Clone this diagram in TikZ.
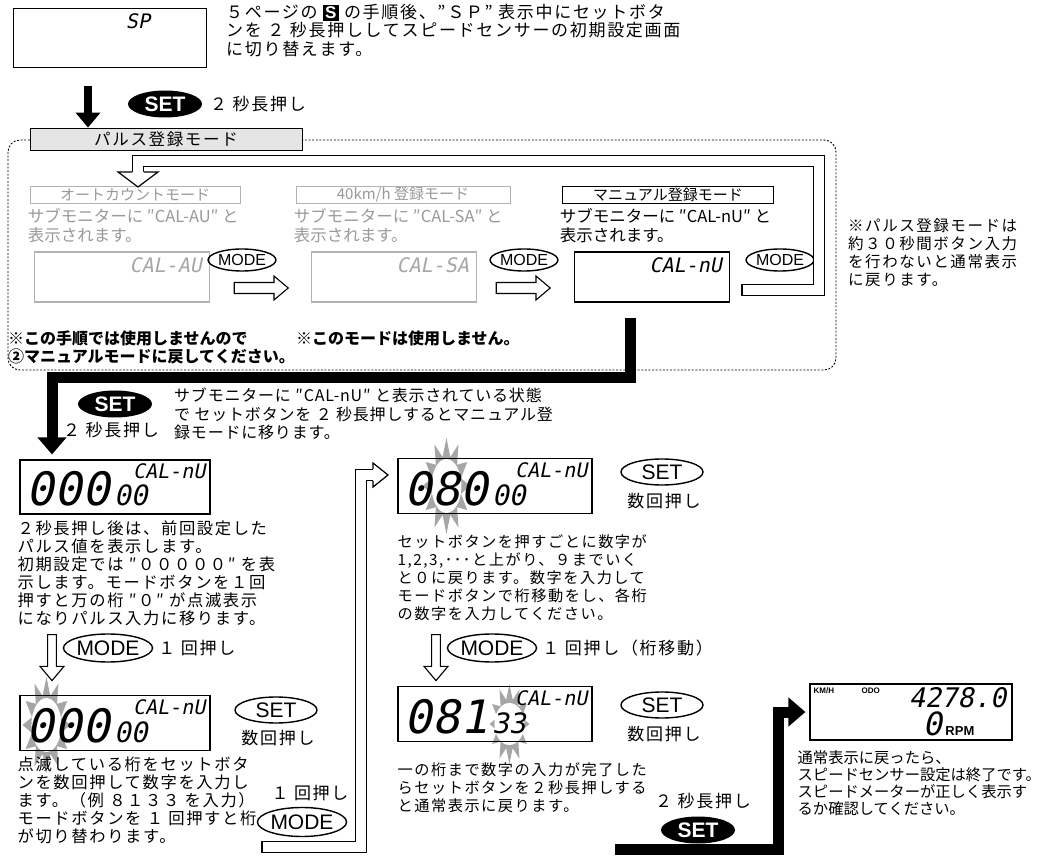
\documentclass[tikz,border=0pt]{standalone}
\usepackage{fontspec}
\setmainfont{Noto Sans CJK JP}
\newfontfamily\jptight[LetterSpace=5]{Noto Sans CJK JP}
\newfontfamily\jpmid[LetterSpace=10]{Noto Sans CJK JP}
\newfontfamily\btnfont{Liberation Sans}
\newfontfamily\segfont[FakeSlant=0.2]{DejaVu Sans Mono}
\usetikzlibrary{shapes.geometric,shapes.arrows,arrows.meta,calc,backgrounds}

\newcommand{\Sicon}{{\fboxsep=2pt\colorbox{black}{\textcolor{white}{\btnfont\bfseries\fontsize{17}{17}\selectfont S}}}}
% reading of a CAL-nU screen: name, big digits, small digits
\newcommand{\calread}[3]{%
  \node[segbig, anchor=base west] (#1-big) at ($(#1.south west)+(7,-9)$) {#2};
  \node[segsmall, anchor=base west] (#1-small) at ($(#1-big.base east)+(4,0)$) {#3};
  \node[seg, anchor=north east] (#1-cal) at ($(#1.north east)+(-5,4)$) {CAL-nU};
}

\tikzset{
  lcd/.style={draw, line width=1.1pt, inner sep=0pt},
  lcdgray/.style={lcd, draw=gray!60},
  seg/.style={inner sep=0pt, text height=15pt, text depth=0pt, font=\segfont\fontsize{20}{20}\selectfont},
  segbig/.style={inner sep=0pt, text height=34pt, text depth=0pt, font=\segfont\fontsize{46}{46}\selectfont},
  segsmall/.style={inner sep=0pt, text height=20pt, text depth=0pt, font=\segfont\fontsize{28}{28}\selectfont},
  setbtn/.style={ellipse, fill=black, text=white, inner sep=0pt, minimum width=74pt, minimum height=27pt, font=\btnfont\bfseries\fontsize{21}{21}\selectfont},
  setring/.style={ellipse, draw, line width=1.4pt, inner sep=0pt, minimum width=82pt, minimum height=26pt, font=\btnfont\fontsize{21}{21}\selectfont},
  modebtn/.style={ellipse, draw, line width=1.4pt, inner sep=0pt, minimum width=52pt, minimum height=22pt, font=\btnfont\fontsize{16}{16}\selectfont},
  modebig/.style={modebtn, minimum width=84pt, minimum height=28pt, font=\btnfont\fontsize{21}{21}\selectfont},
  txt/.style={anchor=north west, align=left, inner sep=0pt, font=\fontsize{16.5}{19}\selectfont},
  hint/.style={inner sep=0pt, font=\jpmid\fontsize{17}{17}\selectfont},
  modetitle/.style={draw, line width=0.9pt, inner sep=0pt, minimum height=17pt, font=\fontsize{15}{15}\selectfont},
  graymode/.style={modetitle, draw=gray!60, text=gray!80},
  frame/.style={line width=0.9pt, dash pattern=on 2pt off 1.6pt, rounded corners=12pt},
  bigarrow/.style={line width=11pt, -{Triangle[length=17pt, width=28pt]}},
  pipe/.style={line width=1.2pt, double=white, double distance=9.5pt},
  pipehead/.style={draw, line width=1.2pt, fill=white},
  hollow/.style={single arrow, draw, line width=1.1pt, fill=white, inner sep=4.5pt, single arrow head extend=6pt, single arrow tip angle=80, minimum height=54pt},
  hollowdown/.style={hollow, shape border rotate=270, inner sep=3.5pt, single arrow head extend=7pt, minimum height=46pt},
  burst/.style={star, star points=12, star point ratio=1.6, fill=gray!70, inner sep=0pt, minimum size=96pt, xscale=0.5},
  burstcore/.style={ellipse, fill=white, inner sep=0pt, minimum width=30pt, minimum height=54pt},
}

\begin{document}
\begin{tikzpicture}[x=1pt, y=-1pt]
\useasboundingbox (0,0) rectangle (1045,858);

% SP screen and first step
\node[lcd, minimum width=193pt, minimum height=59pt] (spbox) at (110,38) {};
\node[seg, anchor=north] (sp) at ($(spbox.north)+(28,5)$) {SP};
\node[txt, font=\jpmid\fontsize{17}{18.5}\selectfont] (intro) at (226,4)
  {５ページの \Sicon\ の手順後、”ＳＰ” 表示中にセットボタ\\ンを ２ 秒長押ししてスピードセンサーの初期設定画面\\に切り替えます。};
\node[setbtn] (set1) at (165,104) {SET};
\node[hint, anchor=west] (hold1) at (210,104) {２ 秒長押し};

% pulse registration mode
\draw[frame] (8,140) rectangle (836,370);
\node[draw, line width=0.8pt, fill=gray!20, minimum width=272pt, minimum height=22pt, inner sep=0pt, font=\jpmid\fontsize{16.5}{16.5}\selectfont] (pulse) at (166,139) {パルス登録モード};
\coordinate (a0) at (88,86);
\draw[bigarrow, line width=8pt, -{Triangle[length=15pt, width=24pt]}] (a0) -- (a0 |- pulse.north);

\node[graymode, minimum width=210pt] (auto) at (135,195) {オートカウントモード};
\node[graymode, minimum width=214pt] (kmh) at (403,195) {40km/h 登録モード};
\node[modetitle, line width=1.8pt, minimum width=211pt] (manual) at (668,195) {マニュアル登録モード};
\node[txt, text=gray!80] (autotxt) at ($(auto.south west)+(-2,4)$) {サブモニターに ″CAL-AU″ と\\表示されます。};
\node[txt, text=gray!80] (kmhtxt) at ($(kmh.south west)+(-2,4)$) {サブモニターに ″CAL-SA″ と\\表示されます。};
\node[txt] (manualtxt) at ($(manual.south west)+(-2,4)$) {サブモニターに ″CAL-nU″ と\\表示されます。};

\node[lcdgray, minimum width=175pt, minimum height=50pt] (audisp) at (122,277) {};
\node[seg, text=gray!70, anchor=north east] at ($(audisp.north east)+(-8,6)$) {CAL-AU};
\node[lcdgray, minimum width=165pt, minimum height=50pt] (sadisp) at (394,277) {};
\node[seg, text=gray!70, anchor=north east] at ($(sadisp.north east)+(-8,6)$) {CAL-SA};
\node[lcd, minimum width=155pt, minimum height=50pt] (nudisp) at (652,277) {};
\node[seg, anchor=north east] at ($(nudisp.north east)+(-8,6)$) {CAL-nU};

\node[modebtn] (mode1) at (242,260) {MODE};
\node[modebtn] (mode2) at (524,260) {MODE};
\node[modebtn] (mode3) at (780,260) {MODE};
\node[hollow, minimum width=24pt] (go1) at ($(mode1)+(16,28)$) {};
\node[hollow, minimum width=24pt] (go2) at ($(mode2)+(-4,28)$) {};

% loop back to the first mode
\coordinate (loop0) at (742,290);
\coordinate (loop1) at (819,161);
\coordinate (loop2) at (138,172);
\draw[pipe] (loop0) -| (loop1) -| (loop2);
\draw[line width=1.2pt] ($(loop0)+(0,-6)$) -- ($(loop0)+(0,6)$);
\draw[pipehead] ($(loop2)+(-6,0)$) -- ++(-14,0) -- ($(loop2)+(0,15)$) -- ($(loop2)+(20,0)$) -- ++(-14,0);

\node[txt, font=\bfseries\fontsize{16}{18}\selectfont] (note1) at (8,331) {※この手順では使用しませんので\\②マニュアルモードに戻してください。};
\node[txt, font=\bfseries\fontsize{16}{18}\selectfont] (note2) at (296,331) {※このモードは使用しません。};
\node[txt, font=\jpmid\fontsize{15.5}{18}\selectfont] (timeout) at (848,218) {※パルス登録モードは\\約３０秒間ボタン入力\\を行わないと通常表示\\に戻ります。};

% enter manual mode
\node[lcd, minimum width=190pt, minimum height=54pt] (d1) at (115,487) {};
\coordinate (c0) at (630,318);
\coordinate (c1) at (52,378);
\draw[bigarrow] (c0) |- (c1) -- ($(c1 |- d1.north)+(0,-5)$);
\node[setbtn] (set2) at (115,404) {SET};
\node[hint, anchor=west] (hold2) at (63,430) {２ 秒長押し};
\node[txt, font=\jptight\fontsize{16}{18.5}\selectfont] (entertxt) at (174,388)
  {サブモニターに ″CAL-nU″ と表示されている状態\\で セットボタンを ２ 秒長押しするとマニュアル登\\録モードに移ります。};

% left column
\calread{d1}{000}{00}
\node[txt, font=\jpmid\fontsize{16.3}{18}\selectfont] (d1txt) at ($(d1.south west)+(-2,6)$)
  {２秒長押し後は、前回設定した\\パルス値を表示します。\\初期設定では ″０００００″ を表\\示します。モードボタンを１回\\押すと万の桁 ″０″ が点滅表示\\になりパルス入力に移ります。};
\node[hollowdown, minimum width=24pt] (dn1) at (52,655) {};
\node[modebig] (mode4) at (108,648) {MODE};
\node[hint, anchor=west] (once1) at ($(mode4.east)+(5,0)$) {１ 回押し};

\node[lcd, minimum width=190pt, minimum height=55pt] (d2) at (115,723) {};
\calread{d2}{000}{00}
\node[setring] (set3) at (276,710) {SET};
\node[hint] (many1) at ($(set3.south)+(2,14)$) {数回押し};
\node[txt, font=\jpmid\fontsize{16.3}{18}\selectfont] (d2txt) at ($(d2.south west)+(-2,6)$)
  {点滅している桁をセットボタ\\ンを数回押して数字を入力し\\ます。（例 ８１３３ を入力）\\モードボタンを １ 回押すと桁\\が切り替わります。};
\node[hint] (once2) at (310,793) {１ 回押し};
\node[modebig, minimum width=88pt, minimum height=29pt] (mode5) at (302,822) {MODE};

\coordinate (p0) at (262,847);
\coordinate (p1) at (361,475);
\coordinate (p2) at (373,475);
\draw[pipe] (p0) -| (p1) -- (p2);
\draw[line width=1.2pt] ($(p0)+(0,-6)$) -- ($(p0)+(0,6)$);
\draw[pipehead] ($(p2)+(0,-6)$) -- ++(0,-6) -- ($(p2)+(15,0)$) -- ($(p2)+(0,12)$) -- ++(0,-6);

% right column
\node[lcd, minimum width=194pt, minimum height=55pt] (d3) at (495,486) {};
\calread{d3}{080}{00}
\node[setring] (set4) at (662,472) {SET};
\node[hint] (many2) at ($(set4.south)+(2,15)$) {数回押し};
\node[txt, font=\jpmid\fontsize{15.2}{18}\selectfont] (d3txt) at ($(d3.south west)+(0,20)$)
  {セットボタンを押すごとに数字が\\1,2,3,･･･と上がり、９までいく\\と０に戻ります。数字を入力して\\モードボタンで桁移動をし、各桁\\の数字を入力してください。};
\node[hollowdown, minimum width=24pt] (dn2) at (436,655) {};
\node[modebig] (mode6) at (492,648) {MODE};
\node[hint, anchor=west] (once3) at ($(mode6.east)+(5,0)$) {１ 回押し（桁移動）};

\node[lcd, minimum width=194pt, minimum height=55pt] (d4) at (495,714) {};
\calread{d4}{081}{33}
\node[setring] (set5) at (662,705) {SET};
\node[hint] (many3) at ($(set5.south)+(2,15)$) {数回押し};
\node[txt, font=\jpmid\fontsize{15.2}{18}\selectfont] (d4txt) at ($(d4.south west)+(0,20)$)
  {一の桁まで数字の入力が完了した\\らセットボタンを２秒長押しする\\と通常表示に戻ります。};
\node[hint] (hold3) at (703,801) {２ 秒長押し};
\node[setbtn] (set6) at (698,830) {SET};

% back to the normal screen
\node[lcd, minimum width=202pt, minimum height=56pt] (normal) at (911,712) {};
\node[anchor=north west, inner sep=0pt, font=\btnfont\bfseries\fontsize{8}{8}\selectfont] (kmhlbl) at ($(normal.north west)+(4,4)$) {KM/H};
\node[anchor=north west, inner sep=0pt, font=\btnfont\bfseries\fontsize{8}{8}\selectfont] (odolbl) at ($(normal.north west)+(52,4)$) {ODO};
\node[seg, text height=20pt, font=\segfont\fontsize{27}{27}\selectfont, anchor=north east] (odo) at ($(normal.north east)+(-6,4)$) {4278.0};
\node[inner sep=0pt, font=\btnfont\bfseries\fontsize{13}{13}\selectfont, anchor=base east] (rpm) at ($(normal.south east)+(-38,-5)$) {RPM};
\node[seg, text height=24pt, font=\segfont\fontsize{32}{32}\selectfont, anchor=base east] (rpm0) at ($(rpm.base west)+(-3,0)$) {0};
\coordinate (e0) at (615,849);
\coordinate (e1) at (778,712);
\draw[bigarrow] (e0) -| (e1) -- ($(normal.west)+(-4,0)$);
\node[txt, font=\fontsize{15.3}{17}\selectfont] (donetxt) at ($(normal.south west)+(-12,10)$)
  {通常表示に戻ったら、\\スピードセンサー設定は終了です。\\スピードメーターが正しく表示す\\るか確認してください。};

% blinking digits
\begin{scope}[on background layer]
  \node[burst] (b2) at ($(d2.west)+(27,2)$) {};
  \node[burstcore] at (b2) {};
  \node[burst] (b3) at ($(d3.west)+(49,0)$) {};
  \node[burstcore] at (b3) {};
  \node[burst, minimum size=80pt] (b4) at ($(d4.west)+(112,10)$) {};
  \node[burstcore, minimum height=42pt] at (b4) {};
\end{scope}
\end{tikzpicture}
\end{document}
